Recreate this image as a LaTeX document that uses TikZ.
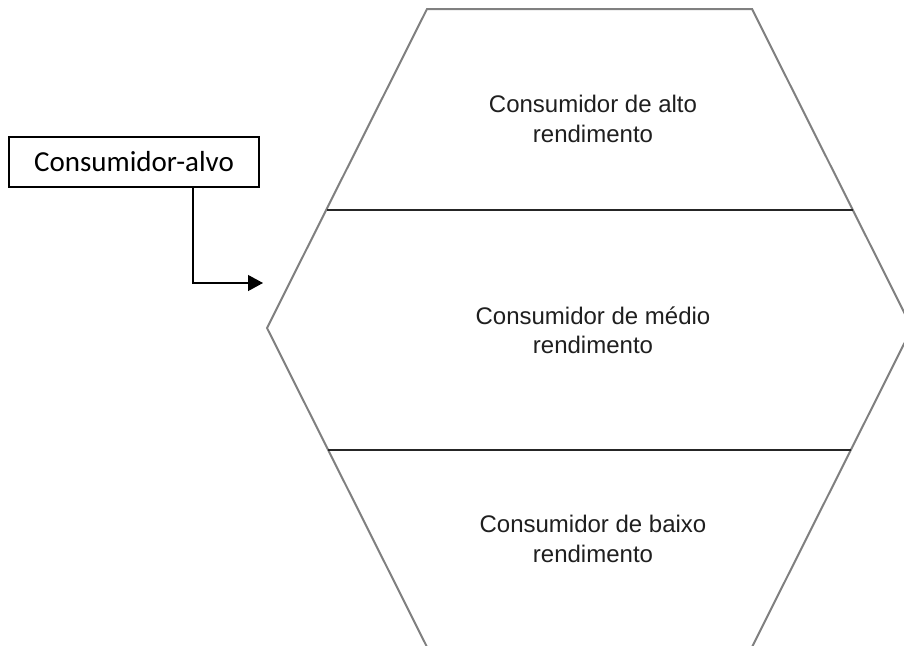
\documentclass[tikz,border=0pt]{standalone}
\usepackage{fontspec}
\setmainfont{Liberation Sans}
\newfontfamily\calibrifont{Carlito}
\usetikzlibrary{arrows.meta}
\begin{document}
\begin{tikzpicture}[x=1pt,y=-1pt,
  hexline/.style={draw=black!50,line width=2pt,line join=miter},
  divline/.style={draw=black!85,line width=1.8pt},
  lbl/.style={align=center,inner sep=0pt,text=black!88,font=\fontsize{24}{29.5}\selectfont},
  targetbox/.style={draw=black,line width=1.6pt,minimum width=250pt,minimum height=50pt,inner sep=0pt,font=\calibrifont\fontsize{29}{34}\selectfont},
  conn/.style={draw=black,line width=1.2pt,-{Triangle[length=15pt,width=16pt]}}]
\useasboundingbox (0,0) rectangle (904,645);
\clip (0,0) rectangle (904,645);
\fill[white] (0,0) rectangle (904,645);
% hexagon
\coordinate (h1) at (427,9);
\coordinate (h2) at (752,9);
\coordinate (h3) at (912,328);
\coordinate (h4) at (752,647);
\coordinate (h5) at (427,647);
\coordinate (h6) at (267,328);
\draw[hexline] (h1) -- (h2) -- (h3) -- (h4) -- (h5) -- (h6) -- cycle;
% dividers
\coordinate (d1l) at (326.5,210);
\coordinate (d1r) at (852.5,210);
\coordinate (d2l) at (328,450);
\coordinate (d2r) at (851,450);
\draw[divline] (d1l) -- (d1r);
\draw[divline] (d2l) -- (d2r);
% labels
\node[lbl] (alto) at (593,119) {Consumidor de alto\\rendimento};
\node[lbl] (medio) at (593,330.5) {Consumidor de médio\\rendimento};
\node[lbl] (baixo) at (593,539) {Consumidor de baixo\\rendimento};
% target box
\node[targetbox] (alvo) at (134,162) {Consumidor-alvo};
\coordinate (bend) at (193,283);
\coordinate (tip) at (263,283);
\draw[conn] (alvo.south -| bend) -- (bend) -- (tip);
\end{tikzpicture}
\end{document}
